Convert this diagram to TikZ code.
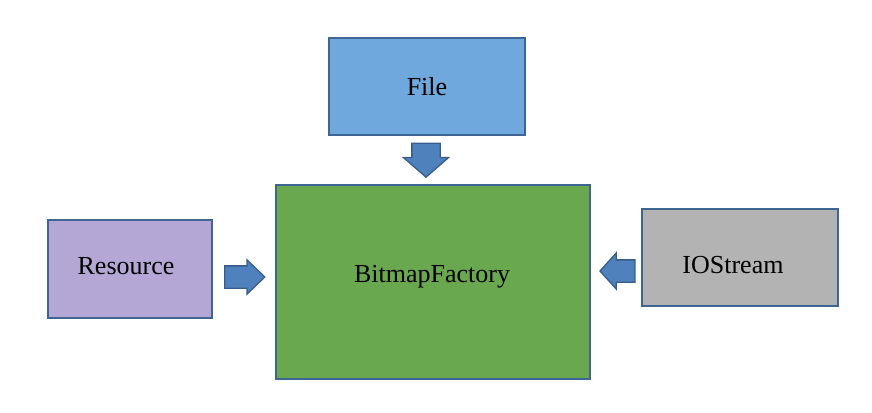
\documentclass[tikz,border=0pt]{standalone}
\usepackage{fontspec}
\setmainfont{Liberation Serif}
\usetikzlibrary{shapes.arrows}

\definecolor{edgeblue}{HTML}{3F6592}
\definecolor{arrowblue}{HTML}{4F81BD}
\definecolor{arrowedge}{HTML}{385D8A}
\definecolor{fileblue}{HTML}{6FA8DC}
\definecolor{factorygreen}{HTML}{6AA84F}
\definecolor{resviolet}{HTML}{B4A7D6}
\definecolor{streamgray}{HTML}{B3B3B3}

\tikzset{
    srcbox/.style={draw=edgeblue, line width=2pt, inner sep=0pt,
        font=\fontsize{26}{30}\selectfont},
    blockarrow/.style={single arrow, draw=arrowedge, fill=arrowblue,
        line width=1.3pt, single arrow head indent=0pt}
}

\begin{document}
\begin{tikzpicture}[x=1pt, y=-1pt]
        \useasboundingbox (0,0) rectangle (872,412);

        % --- ボックス ---
        \node[srcbox, fill=fileblue, minimum width=196pt, minimum height=97pt] (file) at (427,86.5) {File};
        \node[srcbox, fill=factorygreen, minimum width=314pt, minimum height=194pt] (factory) at (433,282) {};
        \node (factorylabel) at (432,277) {\fontsize{26}{30}\selectfont BitmapFactory};
        \node[srcbox, fill=resviolet, minimum width=164pt, minimum height=98pt] (resource) at (130,269) {};
        \node (resourcelabel) at (126,266) {\fontsize{26}{30}\selectfont Resource};
        \node[srcbox, fill=streamgray, minimum width=196pt, minimum height=97pt] (iostream) at (740,257.5) {};
        \node (iostreamlabel) at (733,265) {\fontsize{26}{30}\selectfont IOStream};

        % --- 矢印 ---
        \node[blockarrow, shape border rotate=270, inner xsep=13.5pt, inner ysep=0pt, minimum height=34pt,
            single arrow head extend=8.5pt, single arrow tip angle=98] (filearrow) at (426,154) {};
        \node[blockarrow, inner xsep=0pt, inner ysep=10.5pt, minimum height=40pt,
            single arrow head extend=6pt, single arrow tip angle=88] (resarrow) at (239,277) {};
        \node[blockarrow, shape border rotate=180, inner xsep=0pt, inner ysep=10.5pt, minimum height=35pt,
            single arrow head extend=7pt, single arrow tip angle=96] (streamarrow) at (622.5,271) {};

    \end{tikzpicture}
\end{document}
